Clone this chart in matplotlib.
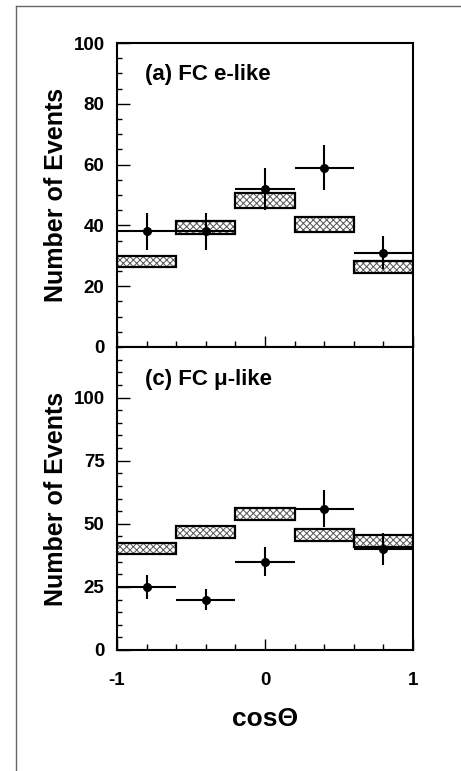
import matplotlib
matplotlib.use("Agg")
import matplotlib.pyplot as plt
from matplotlib.ticker import MultipleLocator, FixedLocator
from matplotlib.lines import Line2D

plt.rcParams['font.family'] = ['Liberation Sans', 'DejaVu Sans']
plt.rcParams['hatch.linewidth'] = 0.7

# ---- data ----
bin_centers = [-0.8, -0.4, 0.0, 0.4, 0.8]
bin_halfwidth = 0.2

# (a) FC e-like
e_data = [38, 38, 52, 59, 31]
e_err = [6, 6, 7, 7.5, 5.5]
e_mc_center = [28.1, 39.4, 48.3, 40.3, 26.3]
e_mc_half = [1.9, 2.2, 2.5, 2.4, 1.9]

# (c) FC mu-like
mu_data = [25, 20, 35, 56, 40]
mu_err = [4.7, 4.3, 5.8, 7.4, 6.2]
mu_mc_center = [40.3, 46.8, 54.0, 45.5, 43.2]
mu_mc_half = [2.1, 2.4, 2.4, 2.3, 2.5]

e_yticks = [0, 20, 40, 60, 80, 100]
mu_yticks = [0, 25, 50, 75, 100]
x_ticks = [-1, 0, 1]

fig = plt.figure(figsize=(4.61, 7.71), dpi=100)
L, W = 117/461, 296/461
ax1 = fig.add_axes([L, 1-347/771, W, 304/771])
ax2 = fig.add_axes([L, 1-650/771, W, 303/771])

TICK_FS = 13.5

def draw(ax, data, err, mcc, mch, label, ly):
    bottoms = [c - h for c, h in zip(mcc, mch)]
    heights = [2*h for h in mch]
    ax.bar(bin_centers, heights, bottom=bottoms, width=2*bin_halfwidth,
           color='white', edgecolor='#555555', hatch='xxxxx', linewidth=0, zorder=2)
    ax.bar(bin_centers, heights, bottom=bottoms, width=2*bin_halfwidth,
           fill=False, edgecolor='black', linewidth=1.6, zorder=3)
    ax.errorbar(bin_centers, data, yerr=err, xerr=bin_halfwidth, fmt='o',
                color='black', ms=5.5, elinewidth=1.5, capsize=0, zorder=4)
    ax.set_xlim(-1, 1)
    ax.xaxis.set_major_locator(FixedLocator(x_ticks))
    ax.xaxis.set_minor_locator(MultipleLocator(0.2))
    ax.yaxis.set_minor_locator(MultipleLocator(5))
    ax.tick_params(which='both', direction='in', top=False, right=False,
                   width=1.0, labelsize=TICK_FS)
    ax.tick_params(axis='y', which='major', length=9, pad=9)
    ax.tick_params(axis='y', which='minor', length=3.5)
    ax.tick_params(axis='x', which='major', length=8, pad=15.5)
    ax.tick_params(axis='x', which='minor', length=4)
    for s in ax.spines.values():
        s.set_linewidth(1.5)
    ax.set_ylabel('Number of Events', fontsize=18, fontweight='bold', labelpad=4)
    ax.text(-0.81, ly, label, fontsize=16, fontweight='bold', va='center', ha='left')

draw(ax1, e_data, e_err, e_mc_center, e_mc_half, '(a) FC e-like', 89.5)
ax1.set_ylim(0, 100)
ax1.yaxis.set_major_locator(FixedLocator(e_yticks))
ax1.set_yticklabels([str(v) for v in e_yticks], fontweight='bold', fontsize=TICK_FS)
ax1.tick_params(axis='x', labelbottom=False)

draw(ax2, mu_data, mu_err, mu_mc_center, mu_mc_half, '(c) FC μ-like', 107)
ax2.set_ylim(0, 120)
ax2.yaxis.set_major_locator(FixedLocator(mu_yticks))
ax2.set_yticklabels([str(v) for v in mu_yticks], fontweight='bold', fontsize=TICK_FS)
ax2.set_xticklabels([str(v) for v in x_ticks], fontweight='bold', fontsize=TICK_FS)
ax2.set_xlabel('cosΘ', fontsize=19, fontweight='bold', labelpad=13)

# page frame lines
fig.add_artist(Line2D([16/461, 16/461], [0, 1-6/771], transform=fig.transFigure,
                      color='#666666', lw=1.0))
fig.add_artist(Line2D([16/461, 1], [1-6/771, 1-6/771], transform=fig.transFigure,
                      color='#666666', lw=1.0))

fig.savefig('out.png', dpi=100)
